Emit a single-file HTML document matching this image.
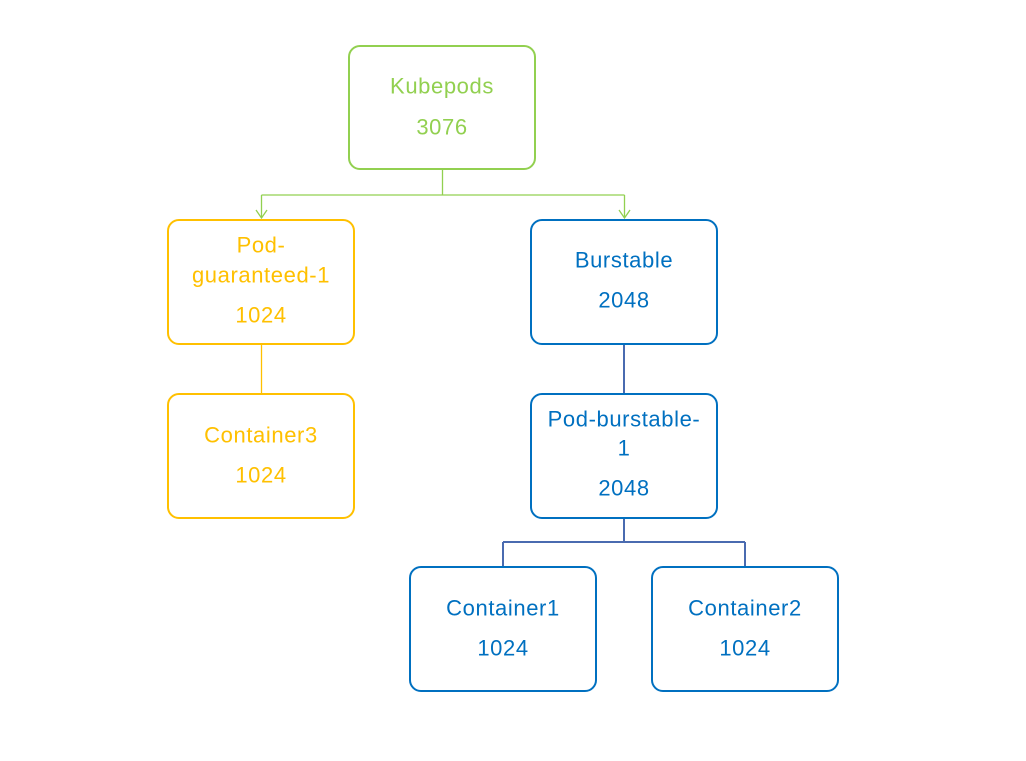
<!DOCTYPE html>
<html><head><meta charset="utf-8"><style>html,body{margin:0;padding:0;background:#fff}</style></head>
<body>
<svg width="1026" height="756" viewBox="0 0 1026 756" xmlns="http://www.w3.org/2000/svg" font-family="Liberation Sans, sans-serif" font-size="22" letter-spacing="0.6" text-anchor="middle" dominant-baseline="central">
<g fill="none" stroke-width="1.3">
<path d="M442.5 169 V195 M261.5 195 H624.5 M261.5 195 V218 M624.5 195 V218" stroke="#92d050"/>
<path d="M256 210 L261.5 218 L267 210 M619 210 L624.5 218 L630 210" stroke="#92d050"/>
<path d="M261.5 344 V394" stroke="#ffc000"/>
<path d="M624 344 V394 M624 518 V542 M503 542 H745 M503 542 V567 M745 542 V567" stroke="#4a6bb0" stroke-width="2"/>
</g>
<g fill="#fff" stroke-width="2">
<rect x="349" y="46" width="186" height="123" rx="11" stroke="#92d050"/>
<rect x="168" y="220" width="186" height="124" rx="11" stroke="#ffc000"/>
<rect x="531" y="220" width="186" height="124" rx="11" stroke="#0070c0"/>
<rect x="168" y="394" width="186" height="124" rx="11" stroke="#ffc000"/>
<rect x="531" y="394" width="186" height="124" rx="11" stroke="#0070c0"/>
<rect x="410" y="567" width="186" height="124" rx="11" stroke="#0070c0"/>
<rect x="652" y="567" width="186" height="124" rx="11" stroke="#0070c0"/>
</g>
<g fill="#92d050"><text x="442" y="86">Kubepods</text><text x="442" y="127">3076</text></g>
<g fill="#ffc000">
<text x="261" y="245">Pod-</text><text x="261" y="275">guaranteed-1</text><text x="261" y="315">1024</text>
<text x="261" y="435">Container3</text><text x="261" y="475">1024</text>
</g>
<g fill="#0070c0">
<text x="624" y="260">Burstable</text><text x="624" y="300">2048</text>
<text x="624" y="419">Pod-burstable-</text><text x="624" y="448">1</text><text x="624" y="488">2048</text>
<text x="503" y="608">Container1</text><text x="503" y="648">1024</text>
<text x="745" y="608">Container2</text><text x="745" y="648">1024</text>
</g>
</svg>
</body></html>
